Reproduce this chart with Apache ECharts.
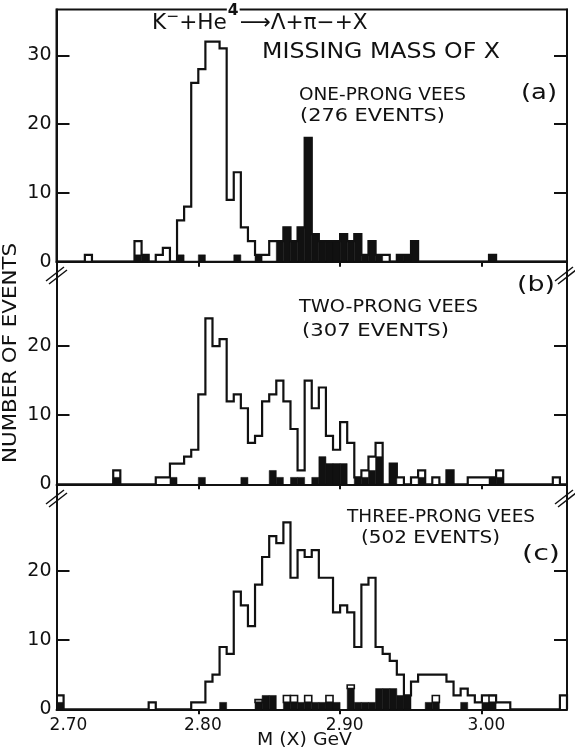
<!DOCTYPE html>
<html>
<head>
<meta charset="utf-8">
<script src="https://cdn.jsdelivr.net/npm/echarts@6/dist/echarts.min.js"></script>
<style>
html, body { margin: 0; padding: 0; background: #fff; }
#chart { width: 575px; height: 751px; }
</style>
</head>
<body>
<div id="chart"></div>
<script>
// Missing-mass histograms, 5 MeV bins starting at 2.700 GeV (72 bins up to 3.060 GeV)
const BIN_START = 2.70;
const BIN_WIDTH = 0.005;
const massTickLabels = [2.70, 2.80, 2.90, 3.00];

// (a) one-prong vees: all events (open outline) and the filled subset
const oneProngAll = [0,0,0,0,1,0,0,0,0,0, 0,3,1,0,1,2,0,6,8,26, 28,32,32,31,9,13,5,3,1,1,
  3,3,5,3,5,18,4,3,3,3, 4,3,4,1,3,1,1,0,1,1, 3,0,0,0,0,0,0,0,0,0, 0,1,0,0,0,0,0,0,0,0, 0,0];
const oneProngFilled = [0,0,0,0,0,0,0,0,0,0, 0,1,1,0,0,0,0,1,0,0, 1,0,0,0,0,1,0,0,1,0,
  0,3,5,3,5,18,4,3,3,3, 4,3,4,1,3,1,0,0,1,1, 3,0,0,0,0,0,0,0,0,0, 0,1,0,0,0,0,0,0,0,0, 0,0];
const oneProngOpen = new Array(72).fill(0);

// (b) two-prong vees
const twoProngAll = [0,0,0,0,0,0,0,0,2,0, 0,0,0,0,1,1,3,3,4,5, 13,24,20,21,12,13,11,6,7,12,
  13,15,12,8,2,15,11,14,7,5, 9,6,1,2,4,6,0,3,1,0, 1,2,0,1,0,2,0,0,1,1, 1,1,2,0,0,0,0,0,0,0, 1,0];
const twoProngFilled = [0,0,0,0,0,0,0,0,1,0, 0,0,0,0,0,0,1,0,0,0, 1,0,0,0,0,0,1,0,0,0,
  2,1,0,1,1,0,1,4,3,3, 3,0,1,1,2,4,0,3,0,0, 0,1,0,0,0,2,0,0,0,0, 0,1,1,0,0,0,0,0,0,0, 0,0];
const twoProngOpen = new Array(72).fill(0);

// (c) three-prong vees
const threeProngAll = [2,0,0,0,0,0,0,0,0,0, 0,0,0,1,0,0,0,0,0,1, 1,4,5,9,8,17,15,12,18,22,
  25,24,27,19,23,22,23,19,19,14, 15,14,9,18,19,9,8,7,5,2, 4,5,5,5,5,4,2,3,2,1, 2,2,1,1,0,0,0,0,0,0, 0,2];
const threeProngFilled = [1,0,0,0,0,0,0,0,0,0, 0,0,0,0,0,0,0,0,0,0, 0,0,0,1,0,0,0,0,1,2,
  2,0,1,1,1,1,1,1,1,1, 0,3,1,1,1,3,3,3,2,2, 0,0,1,1,0,0,0,1,0,0, 1,1,0,0,0,0,0,0,0,0, 0,0];
const threeProngOpen = [0,0,0,0,0,0,0,0,0,0, 0,0,0,0,0,0,0,0,0,0, 0,0,0,0,0,0,0,0,0.4,0,
  0,0,1,1,0,1,0,0,1,0, 0,0.5,0,0,0,0,0,0,0,0, 0,0,0,1,0,0,0,0,0,0, 0,1,0,0,0,0,0,0,0,0, 0,0];

const countTicks = [[0,10,20,30],[0,10,20],[0,10,20]];
const countMax = [36.66, 32.2, 32.5];

const panels = [
  { all: oneProngAll, filled: oneProngFilled, open: oneProngOpen },
  { all: twoProngAll, filled: twoProngFilled, open: twoProngOpen },
  { all: threeProngAll, filled: threeProngFilled, open: threeProngOpen }
];

const INK = '#111';
const FONT = 'DejaVu Sans';
const gridBoxes = [
  { top: 9.5, height: 252.2 },
  { top: 261.7, height: 222.6 },
  { top: 484.3, height: 225 }
];

const grid = gridBoxes.map((g, i) => ({
  left: 56.5, right: 8, top: g.top, height: g.height,
  show: i === 0, borderColor: INK, borderWidth: 2, backgroundColor: 'transparent'
}));

const xAxis = gridBoxes.map((g, i) => ({
  type: 'value', gridIndex: i, min: 2.70, max: 3.06, interval: 0.1,
  axisLine: { show: true, onZero: false, lineStyle: { color: INK, width: 2 } },
  axisTick: { show: true, inside: false, length: 5, customValues: [2.8, 2.9, 3.0],
              lineStyle: { color: INK, width: 2 } },
  axisLabel: {
    show: i === 2, customValues: massTickLabels, margin: 8,
    formatter: v => (v < 2.75 ? '{first|' : '{m|') + v.toFixed(2) + '}',
    rich: {
      first: { color: INK, fontFamily: FONT, fontSize: 17, padding: [0, 0, 0, 24] },
      m: { color: INK, fontFamily: FONT, fontSize: 17, padding: [0, 0, 0, 9] }
    }
  },
  splitLine: { show: false }
}));

const yAxis = [];
gridBoxes.forEach((g, i) => {
  yAxis.push({
    type: 'value', gridIndex: i, position: 'left', min: 0, max: countMax[i], interval: 10,
    axisLine: { show: true, lineStyle: { color: INK, width: 2 } },
    axisTick: { show: true, inside: true, length: 13, customValues: countTicks[i],
                lineStyle: { color: INK, width: 2 } },
    axisLabel: { show: true, customValues: countTicks[i], color: INK, fontFamily: FONT,
                 fontSize: 19, margin: 5 },
    splitLine: { show: false }
  });
  yAxis.push({
    type: 'value', gridIndex: i, position: 'right', min: 0, max: countMax[i], interval: 10,
    axisLine: { show: true, lineStyle: { color: INK, width: 2 } },
    axisTick: { show: true, inside: true, length: 13, customValues: countTicks[i],
                lineStyle: { color: INK, width: 2 } },
    axisLabel: { show: false },
    splitLine: { show: false }
  });
});

// filled / open rectangles: one item per non-empty bin, [x0, x1, yBottom, yTop]
function binRects(panelIndex, values, base, style, z) {
  const data = [];
  values.forEach((v, i) => {
    if (v > 0) {
      const b = base ? base[i] : 0;
      data.push([BIN_START + i * BIN_WIDTH, BIN_START + (i + 1) * BIN_WIDTH, b, b + v]);
    }
  });
  return {
    type: 'custom', xAxisIndex: panelIndex, yAxisIndex: panelIndex * 2, data, z,
    silent: true, animation: false,
    encode: { x: [0, 1], y: [2, 3] },
    renderItem: (params, api) => {
      const p0 = api.coord([api.value(0), api.value(3)]);
      const p1 = api.coord([api.value(1), api.value(2)]);
      return {
        type: 'rect',
        shape: { x: p0[0], y: p0[1], width: p1[0] - p0[0], height: p1[1] - p0[1] },
        style
      };
    }
  };
}

// outline of the full sample drawn as a step curve along the bin edges
function outline(panelIndex, values) {
  const data = values.map((v, i) => [BIN_START + i * BIN_WIDTH, v]);
  data.push([BIN_START + values.length * BIN_WIDTH, 0]);
  return {
    type: 'line', step: 'end', xAxisIndex: panelIndex, yAxisIndex: panelIndex * 2,
    data, symbol: 'none', z: 4, silent: true, animation: false,
    lineStyle: { color: INK, width: 2.2, join: 'miter' }
  };
}

const series = [];
panels.forEach((p, i) => {
  series.push(binRects(i, p.filled, null, { fill: INK, stroke: INK, lineWidth: 0.5 }, 2));
  series.push(binRects(i, p.open, p.filled, { fill: '#fff', stroke: INK, lineWidth: 1.6 }, 3));
  series.push(outline(i, p.all));
});

// text stretched horizontally to a given width (lettering is wide and evenly spaced)
const measureCtx = document.createElement('canvas').getContext('2d');
function fitText(text, left, cy, size, width, extra) {
  const font = `${size}px "${FONT}"`;
  measureCtx.font = font;
  const w = measureCtx.measureText(text).width;
  return Object.assign({
    type: 'text', silent: true, z: 10, x: left, y: cy, scaleX: width / w,
    style: { text, x: 0, y: 0, fill: INK, font, textVerticalAlign: 'middle' }
  }, extra || {});
}

const brk = (x, y, dir) => ({
  type: 'group', x, y, silent: true, z: 10,
  children: [
    { type: 'line', shape: { x1: -9, y1: 7 * dir, x2: 9, y2: -7 * dir }, style: { stroke: INK, lineWidth: 1.5 } },
    { type: 'line', shape: { x1: -6, y1: 10 * dir, x2: 12, y2: -4 * dir }, style: { stroke: INK, lineWidth: 1.5 } }
  ]
});

const graphic = [
  {
    type: 'text', silent: true, z: 10, x: 152, y: 24, scaleX: 1.03,
    style: {
      x: 0, y: 0, textVerticalAlign: 'middle', fill: INK,
      text: '{b|K}{s|−}{b|+He}{f|4}{b|⟶Λ+π−+X}',
      rich: {
        b: { fontFamily: FONT, fontSize: 21, fill: INK },
        s: { fontFamily: FONT, fontSize: 15, fill: INK, padding: [0, 0, 14, 0] },
        f: { fontFamily: FONT, fontSize: 15, fontWeight: 'bold', fill: INK, backgroundColor: '#fff',
             padding: [0, 1, 26, 1] }
      }
    }
  },
  fitText('MISSING MASS OF X', 262, 53, 20.5, 238),
  fitText('ONE-PRONG VEES', 299, 95, 18, 167),
  fitText('(276 EVENTS)', 300, 116, 18, 145),
  fitText('(a)', 521, 93, 22, 36),
  fitText('(b)', 517, 285, 22, 38),
  fitText('TWO-PRONG VEES', 299, 307, 18.5, 179),
  fitText('(307 EVENTS)', 302, 331, 18.5, 147),
  fitText('THREE-PRONG VEES', 347, 517, 18.5, 188),
  fitText('(502 EVENTS)', 361, 538, 18.5, 139),
  fitText('(c)', 522, 554, 22, 38),
  fitText('M (X) GeV', 257, 741, 17, 95),
  {
    type: 'text', silent: true, z: 10, x: 11, y: 353, rotation: Math.PI / 2,
    scaleX: 1.0,
    style: { text: 'NUMBER OF EVENTS', x: 0, y: 0, textAlign: 'center', textVerticalAlign: 'middle',
             fill: INK, font: `19.5px "${FONT}"` }
  },
  brk(55, 274, 1), brk(564, 274, 1), brk(55, 497, 1), brk(564, 497, 1)
];

// stretch the vertical axis caption to its full length
measureCtx.font = `19.5px "${FONT}"`;
graphic[graphic.length - 5].scaleX = 220 / measureCtx.measureText('NUMBER OF EVENTS').width;

const chart = echarts.init(document.getElementById('chart'), null, { renderer: 'canvas' });
chart.setOption({
  animation: false,
  backgroundColor: '#fff',
  grid, xAxis, yAxis, series, graphic
});
</script>
</body>
</html>
